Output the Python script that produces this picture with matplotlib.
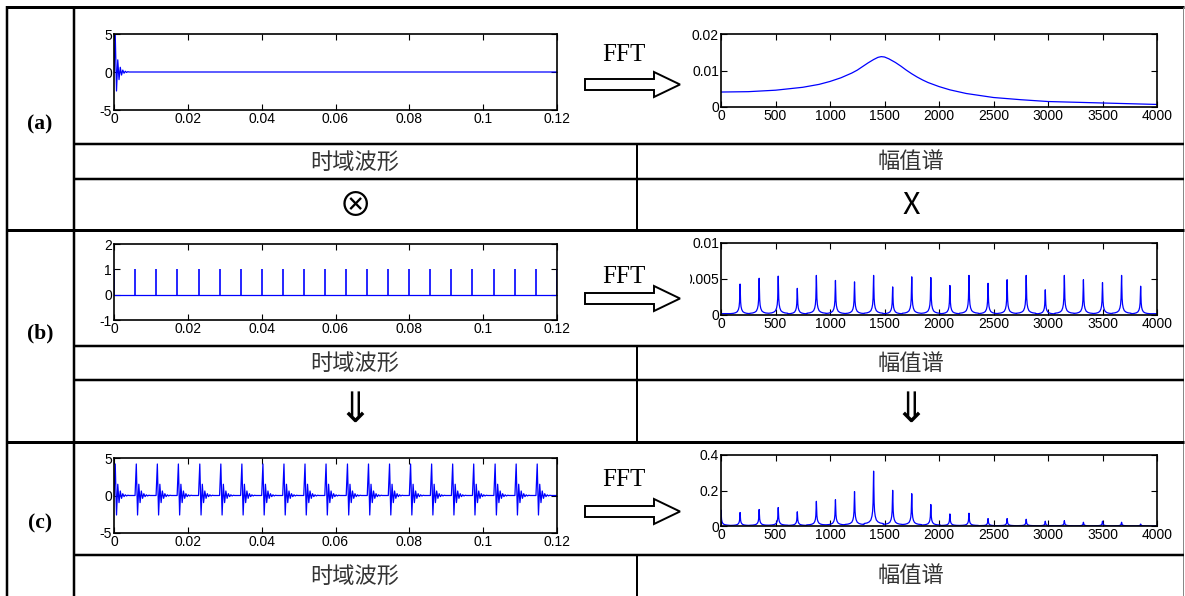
import matplotlib
matplotlib.use('Agg')
import matplotlib.pyplot as plt
import numpy as np
from matplotlib.patches import Polygon
from matplotlib.transforms import Bbox, TransformedBbox

# ---------------- data ----------------
time_ticks = [0, 0.02, 0.04, 0.06, 0.08, 0.1, 0.12]
time_tick_labels = ['0', '0.02', '0.04', '0.06', '0.08', '0.1', '0.12']
freq_ticks = [0, 500, 1000, 1500, 2000, 2500, 3000, 3500, 4000]
freq_tick_labels = ['0', '500', '1000', '1500', '2000', '2500', '3000', '3500', '4000']

# (a) single impulse response: ringing amplitudes at half-period steps
ring_step = 0.00034
ring_amp_a = [0, 4.9, -2.5, 1.6, -1.0, 0.62, -0.4, 0.25, -0.16, 0.1, -0.06, 0.04, 0]
ring_amp_c = [0, 4.2, -2.6, 1.5, -0.95, 0.6, -0.38, 0.24, -0.15, 0.09, -0.06, 0.035, 0]
impulse_times_a = [0.0]

# (a) magnitude spectrum (resonance curve)
spec_a_freq = [0, 250, 500, 750, 900, 1000, 1100, 1200, 1250, 1300, 1350, 1400,
               1440, 1470, 1500, 1540, 1600, 1650, 1700, 1750, 1800, 1850, 1900,
               2000, 2100, 2250, 2500, 2750, 3000, 3500, 4000]
spec_a_amp = [0.0041, 0.0042, 0.0046, 0.0054, 0.0062, 0.0070, 0.0080, 0.0093,
              0.0101, 0.0111, 0.0121, 0.0130, 0.0136, 0.0138, 0.0137, 0.0132,
              0.0122, 0.0112, 0.0101, 0.0091, 0.0082, 0.0074, 0.0067, 0.0056,
              0.0047, 0.0037, 0.0026, 0.0020, 0.0015, 0.0011, 0.0007]

# (b) periodic impulse train (period ~0.00571 s)
pulse_times_b = [0.0, 0.0057, 0.0114, 0.0171, 0.0229, 0.0286, 0.0343, 0.0400,
                 0.0457, 0.0514, 0.0571, 0.0629, 0.0686, 0.0743, 0.0800, 0.0857,
                 0.0914, 0.0971, 0.1029, 0.1086, 0.1143, 0.1199]
pulse_height_b = 1.0

# (c) impulse train convolved with the impulse response
impulse_times_c = pulse_times_b[:21]

# spectral lines of the comb (Hz)
line_freqs = [175, 350, 525, 700, 875, 1050, 1225, 1400, 1575, 1750, 1925,
              2100, 2275, 2450, 2625, 2800, 2975, 3150, 3325, 3500, 3675, 3850]
line_amp_b = [0.0043, 0.0051, 0.0054, 0.0037, 0.0055, 0.0048, 0.0046, 0.0055,
              0.0039, 0.0053, 0.0052, 0.0041, 0.0055, 0.0044, 0.0049, 0.0055,
              0.0035, 0.0055, 0.0049, 0.0045, 0.0055, 0.0040]
line_amp_c = [0.076, 0.093, 0.104, 0.080, 0.139, 0.148, 0.194, 0.309, 0.201,
              0.182, 0.121, 0.068, 0.072, 0.042, 0.042, 0.038, 0.027, 0.030,
              0.021, 0.027, 0.021, 0.011]
dc_amp_c = 0.09

# shape of one spectral line (offset in Hz, relative height)
line_offsets = [-87, -60, -40, -25, -15, -9, -5, -2.5, 0, 2.5, 5, 9, 15, 25, 40, 60, 87]
line_profile = [0.045, 0.055, 0.075, 0.11, 0.18, 0.27, 0.42, 0.68, 1.0,
                0.68, 0.42, 0.27, 0.18, 0.11, 0.075, 0.055, 0.045]

# ---------------- helpers ----------------
W, H = 1185, 596
fig = plt.figure(figsize=(W / 100, H / 100), dpi=100)
BLUE = '#0000ff'
TICKFONT = 'Liberation Sans'
TICKSIZE = 10


def px_axes(x0, y0, x1, y1):
    return fig.add_axes([x0 / W, 1 - y1 / H, (x1 - x0) / W, (y1 - y0) / H], zorder=3)


def ringing_series(starts, amps, step, t_end):
    t, y = [], []
    for t0 in starts:
        for j, a in enumerate(amps):
            t.append(t0 + j * step)
            y.append(a)
    t.append(t_end)
    y.append(0)
    return t, y


def comb_series(freqs, heights, offsets, profile, f_end):
    f, y = [0], [heights[0] * profile[0]]
    for fc, h in zip(freqs, heights):
        for o, p in zip(offsets, profile):
            f.append(fc + o)
            y.append(h * p)
    f.append(f_end)
    y.append(heights[-1] * profile[-1])
    return f, y


def style(ax, xticks, xlabels, yticks, ylabels, xlim, ylim):
    ax.set_xlim(*xlim)
    ax.set_ylim(*ylim)
    ax.set_xticks(xticks)
    ax.set_xticklabels(xlabels, fontfamily=TICKFONT, fontsize=TICKSIZE)
    ax.set_yticks(yticks)
    ax.set_yticklabels(ylabels, fontfamily=TICKFONT, fontsize=TICKSIZE)
    ax.tick_params(direction='in', length=4, width=0.8, top=True, right=True,
                   pad=1.5, colors='black')
    for s in ax.spines.values():
        s.set_linewidth(1.2)
    ax.set_facecolor('white')


# ---------------- table background ----------------
bg = fig.add_axes([0, 0, 1, 1], zorder=0)
bg.set_xlim(0, W)
bg.set_ylim(H, 0)
bg.axis('off')


def hline(y, x0, x1, px=2.5, color='black'):
    bg.plot([x0, x1], [y, y], color=color, lw=px * 0.72, solid_capstyle='butt')


def vline(x, y0, y1, px=2.5, color='black'):
    bg.plot([x, x], [y0, y1], color=color, lw=px * 0.72, solid_capstyle='butt')


hline(7, 6, 1184, 3)
vline(7, 6, H, 2.5)
vline(74, 6, H, 2.5)
vline(1183, 7, H, 1, '#888888')
for y in (144, 179, 346, 380, 555):
    hline(y, 74, 1184, 2.5)
for y in (230, 442):
    hline(y, 6, 1184, 3)
for (y0, y1) in ((144, 230), (346, 442), (555, H)):
    vline(637, y0, y1, 2)

# row letters
for lab, y in (('(a)', 124), ('(b)', 333), ('(c)', 523)):
    bg.text(40, y, lab, fontfamily='Liberation Serif', fontweight='bold',
            fontsize=15.5, ha='center', va='center')

# label rows
CJK = ['Noto Sans CJK SC', 'DejaVu Sans']
for y in (162, 363, 576):
    bg.text(355, y, '时域波形', fontfamily=CJK, fontsize=16, ha='center',
            va='center', color='#333333')
    bg.text(911, y, '幅值谱', fontfamily=CJK, fontsize=16, ha='center',
            va='center', color='#333333')

bg.text(355, 206, '⊗', fontfamily=CJK, fontsize=24, ha='center', va='center')
bg.text(911, 205, 'X', fontfamily=CJK, fontsize=22, ha='center', va='center')
for x in (355, 911):
    bg.text(x, 410, '⇓', fontfamily=CJK, fontsize=30, ha='center', va='center')

# FFT arrows
for (ty, sy0, sy1, hy0, hy1) in ((55, 79, 90, 72, 97), (277, 293, 304, 286, 311),
                                 (480, 506, 517, 499, 524)):
    bg.text(624, ty, 'FFT', fontfamily='Liberation Serif', fontsize=18,
            ha='center', va='center')
    tip = (hy0 + hy1) / 2
    poly = Polygon([(585, sy0), (654, sy0), (654, hy0), (680, tip), (654, hy1),
                    (654, sy1), (585, sy1)], closed=True, facecolor='white',
                   edgecolor='black', lw=1.4)
    bg.add_patch(poly)

# ---------------- (a) ----------------
ax = px_axes(114, 34, 557, 110)
t, y = ringing_series(impulse_times_a, ring_amp_a, ring_step, 0.12)
ax.plot(t, y, color=BLUE, lw=0.9)
style(ax, time_ticks, time_tick_labels, [-5, 0, 5], ['-5', '0', '5'], (0, 0.12), (-5, 5))

ax = px_axes(721, 34, 1157, 107)
ax.plot(spec_a_freq, spec_a_amp, color=BLUE, lw=0.9)
style(ax, freq_ticks, freq_tick_labels, [0, 0.01, 0.02], ['0', '0.01', '0.02'],
      (0, 4000), (0, 0.02))

# ---------------- (b) ----------------
ax = px_axes(114, 244, 557, 320)
ax.axhline(0, color=BLUE, lw=0.9)
ax.vlines(pulse_times_b, 0, pulse_height_b, color=BLUE, lw=1.2)
style(ax, time_ticks, time_tick_labels, [-1, 0, 1, 2], ['-1', '0', '1', '2'],
      (0, 0.12), (-1, 2))

ax = px_axes(721, 243, 1157, 315)
f, y = comb_series(line_freqs, line_amp_b, line_offsets, line_profile, 4000)
ax.plot(f, y, color=BLUE, lw=0.9)
style(ax, freq_ticks, freq_tick_labels, [0, 0.005, 0.01], ['0', '0.005', '0.01'],
      (0, 4000), (0, 0.01))
clip = TransformedBbox(Bbox([[690 / W, 0], [1, 1]]), fig.transFigure)
for lab in ax.get_yticklabels():
    lab.set_clip_box(clip)
    lab.set_clip_on(True)

# ---------------- (c) ----------------
ax = px_axes(114, 458, 557, 533)
t, y = ringing_series(impulse_times_c, ring_amp_c, ring_step, 0.12)
ax.plot(t, y, color=BLUE, lw=0.9)
style(ax, time_ticks, time_tick_labels, [-5, 0, 5], ['-5', '0', '5'], (0, 0.12), (-5, 5))

ax = px_axes(721, 455, 1157, 526)
f, y = comb_series([0] + line_freqs, [dc_amp_c] + line_amp_c, line_offsets,
                   line_profile, 4000)
ax.plot(f, y, color=BLUE, lw=0.9)
style(ax, freq_ticks, freq_tick_labels, [0, 0.2, 0.4], ['0', '0.2', '0.4'],
      (0, 4000), (0, 0.4))

fig.savefig('out.png', dpi=100, facecolor='white')
